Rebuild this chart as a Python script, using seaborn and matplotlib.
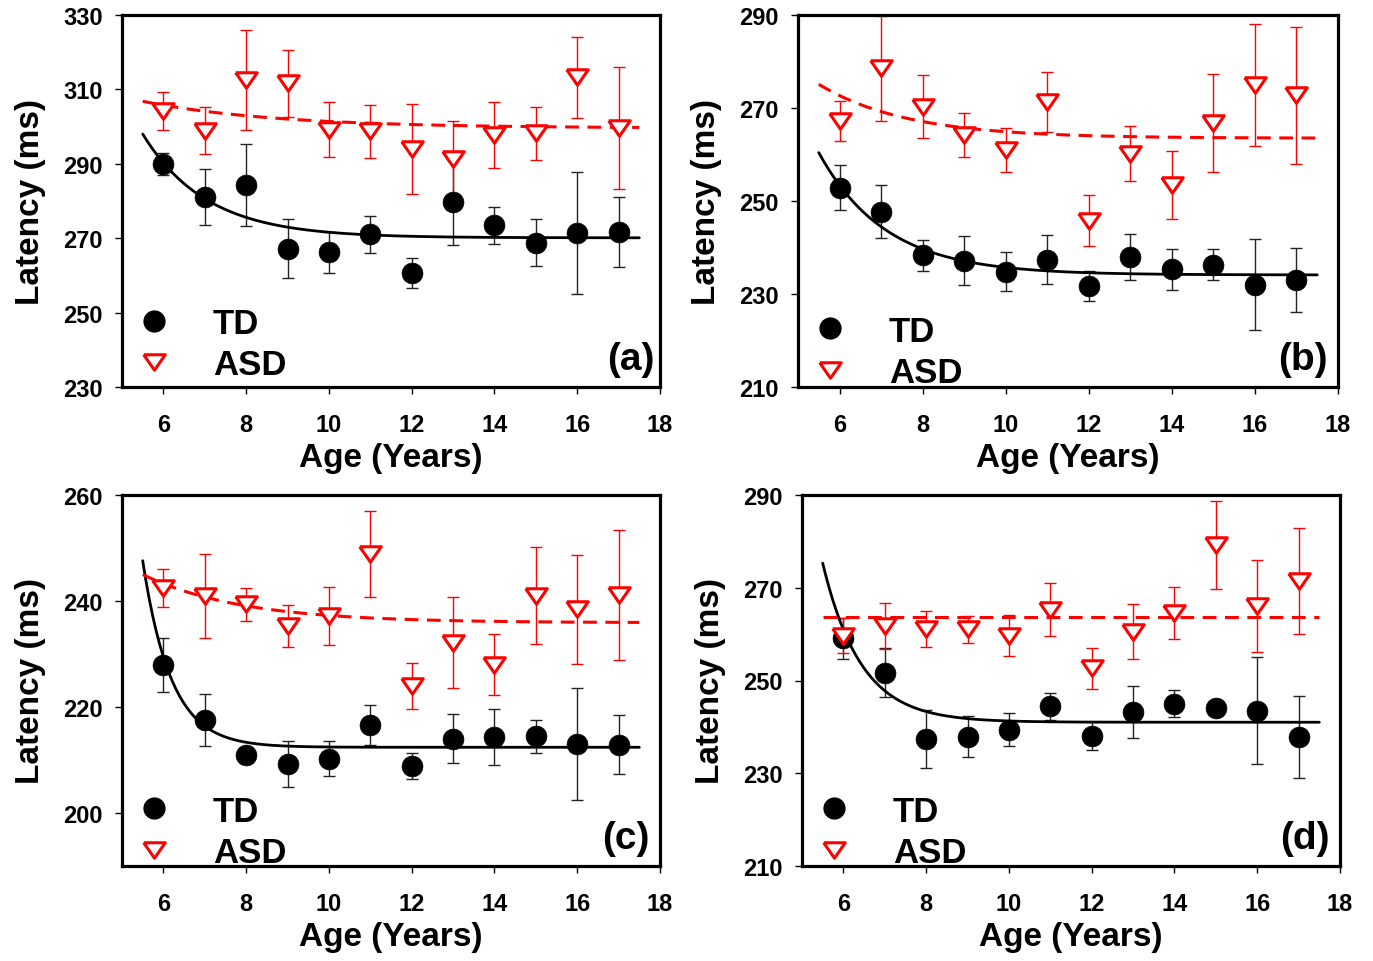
import numpy as np
import matplotlib
matplotlib.use("Agg")
import matplotlib.pyplot as plt
import seaborn as sns
from matplotlib.lines import Line2D

# ---------------- data ----------------
ages = [6, 7, 8, 9, 10, 11, 12, 13, 14, 15, 16, 17]

# panel (a)
td_a = [290.0, 281.1, 284.2, 267.2, 266.2, 271.0, 260.7, 279.6, 273.5, 268.8, 271.4, 271.7]
td_a_err = [3.0, 7.5, 11.0, 8.0, 5.5, 5.0, 4.0, 11.5, 5.0, 6.3, 16.5, 9.5]
asd_a = [304.3, 298.9, 312.5, 311.6, 299.2, 298.7, 293.9, 291.4, 297.8, 298.2, 313.3, 299.6]
asd_a_err = [5.1, 6.3, 13.4, 9.0, 7.5, 7.1, 12.1, 10.0, 8.9, 7.2, 10.9, 16.4]

# panel (b)
td_b = [252.9, 247.7, 238.3, 237.2, 234.8, 237.4, 231.7, 238.0, 235.3, 236.3, 232.0, 233.1]
td_b_err = [4.9, 5.7, 3.4, 5.3, 4.2, 5.2, 3.2, 5.0, 4.4, 3.3, 9.8, 6.9]
asd_b = [267.2, 278.5, 270.3, 264.2, 261.0, 271.3, 245.8, 260.2, 253.4, 266.8, 274.9, 272.7]
asd_b_err = [4.3, 11.3, 6.8, 4.8, 4.8, 6.5, 5.5, 6.0, 7.3, 10.5, 13.1, 14.8]

# panel (c)
td_c = [228.0, 217.5, 210.9, 209.2, 210.2, 216.6, 208.9, 214.0, 214.3, 214.5, 213.0, 212.9]
td_c_err = [5.1, 4.9, 1.5, 4.3, 3.3, 3.8, 2.5, 4.6, 5.3, 3.1, 10.5, 5.6]
asd_c = [242.5, 240.9, 239.4, 235.3, 237.2, 248.8, 224.0, 232.1, 228.0, 241.0, 238.4, 241.1]
asd_c_err = [3.6, 7.9, 3.1, 3.9, 5.5, 8.1, 4.3, 8.6, 5.7, 9.2, 10.2, 12.3]

# panel (d)
td_d = [259.1, 251.7, 237.4, 237.9, 239.4, 244.4, 238.0, 243.3, 245.0, 244.1, 243.5, 237.8]
td_d_err = [4.4, 5.3, 6.3, 4.4, 3.5, 3.0, 3.0, 5.6, 2.9, 1.0, 11.5, 8.9]
asd_d = [259.7, 261.8, 261.1, 261.0, 259.7, 265.3, 252.6, 260.5, 264.5, 279.2, 266.1, 271.5]
asd_d_err = [3.8, 4.9, 3.9, 2.9, 4.5, 5.8, 4.5, 5.9, 5.6, 9.4, 9.9, 11.4]

# exponential fits: asymptote, amplitude at age 5.5, rate
fit_td_a = [270.1, 27.9, 0.65]
fit_asd_a = [299.6, 7.2, 0.31]
fit_td_b = [234.1, 26.3, 0.62]
fit_asd_b = [263.5, 11.6, 0.47]
fit_td_c = [212.4, 35.2, 1.45]
fit_asd_c = [235.9, 9.1, 0.42]
fit_td_d = [241.0, 34.3, 1.08]
fit_asd_d = [263.7, 0.0, 1.0]
fit_range = [5.5, 17.5]

panel_letters = ["(a)", "(b)", "(c)", "(d)"]
ylims = [(230, 330), (210, 290), (190, 260), (210, 290)]
yticks = [[230, 250, 270, 290, 310, 330], [210, 230, 250, 270, 290],
          [200, 220, 240, 260], [210, 230, 250, 270, 290]]
xticks = [6, 8, 10, 12, 14, 16, 18]

# ---------------- style ----------------
sns.set_theme(style="ticks")
plt.rcParams["font.family"] = ["Liberation Sans", "DejaVu Sans"]
plt.rcParams["font.weight"] = "bold"
plt.rcParams["axes.labelweight"] = "bold"
plt.rcParams["text.color"] = "black"
plt.rcParams["axes.labelcolor"] = "black"
plt.rcParams["xtick.color"] = "black"
plt.rcParams["ytick.color"] = "black"

W, H = 1373, 962
fig = plt.figure(figsize=(W / 100, H / 100), dpi=100)

# pixel boxes: left, top, right, bottom
boxes = [(122, 16, 660, 388), (798, 16, 1338, 388),
         (122, 496, 660, 867), (802, 496, 1340, 867)]
legend_anchor = [(0.02, 0.016), (0.02, -0.005), (0.02, -0.008), (0.02, -0.008)]
letter_x = [0.99, 0.98, 0.98, 0.98]

tri = [(-1.0, 0.72), (1.0, 0.72), (0.0, -0.72), (-1.0, 0.72)]

panels = [
    (td_a, td_a_err, asd_a, asd_a_err, fit_td_a, fit_asd_a),
    (td_b, td_b_err, asd_b, asd_b_err, fit_td_b, fit_asd_b),
    (td_c, td_c_err, asd_c, asd_c_err, fit_td_c, fit_asd_c),
    (td_d, td_d_err, asd_d, asd_d_err, fit_td_d, fit_asd_d),
]

xs_fit = np.linspace(fit_range[0], fit_range[1], 300)

for i, (td, tde, asd, asde, ftd, fasd) in enumerate(panels):
    l, t, r, b = boxes[i]
    ax = fig.add_axes([l / W, 1 - b / H, (r - l) / W, (b - t) / H])

    # error bars
    ax.errorbar(ages, td, yerr=tde, fmt="none", ecolor="#222222",
                elinewidth=1.0, capsize=4, capthick=1.0, zorder=2)
    ax.errorbar(ages, asd, yerr=asde, fmt="none", ecolor="#ff0000",
                elinewidth=1.0, capsize=4, capthick=1.0, zorder=2)

    # fitted curves
    y_td = ftd[0] + ftd[1] * np.exp(-ftd[2] * (xs_fit - fit_range[0]))
    y_asd = fasd[0] + fasd[1] * np.exp(-fasd[2] * (xs_fit - fit_range[0]))
    sns.lineplot(x=xs_fit, y=y_td, ax=ax, color="black", linewidth=2.0,
                 zorder=3, legend=False)
    sns.lineplot(x=xs_fit, y=y_asd, ax=ax, color="#ff0000", linewidth=2.2,
                 linestyle=(0, (4.5, 2.8)), zorder=3, legend=False)

    # markers
    sns.scatterplot(x=ages, y=td, ax=ax, marker="o", s=15 ** 2, color="black",
                    edgecolor="black", linewidth=0.5, zorder=4, legend=False)
    sns.scatterplot(x=ages, y=asd, ax=ax, marker=tri, s=15.5 ** 2,
                    facecolor="white", edgecolor="#ff0000", linewidth=2.2,
                    zorder=5, legend=False)

    ax.set_xlim(5, 18)
    ax.set_ylim(*ylims[i])
    ax.set_xticks(xticks)
    ax.set_yticks(yticks[i])
    ax.tick_params(axis="both", direction="out", length=5, width=1.0,
                   labelsize=17, color="black", labelcolor="black")
    ax.tick_params(axis="x", pad=14)
    ax.tick_params(axis="y", pad=9)
    for lab in ax.get_xticklabels() + ax.get_yticklabels():
        lab.set_fontweight("bold")
    for sp in ax.spines.values():
        sp.set_visible(True)
        sp.set_linewidth(2.3)
        sp.set_color("black")

    ax.set_xlabel("Age (Years)", fontsize=24, fontweight="bold", labelpad=4,
                  color="black")
    ax.set_ylabel("Latency (ms)", fontsize=24, fontweight="bold", labelpad=12,
                  color="black")

    handles = [
        Line2D([], [], linestyle="none", marker="o", markersize=15,
               color="black"),
        Line2D([], [], linestyle="none", marker=tri, markersize=15.5,
               markerfacecolor="white", markeredgecolor="#ff0000",
               markeredgewidth=2.2),
    ]
    leg = ax.legend(handles, ["TD", "ASD"], loc="lower left",
                    bbox_to_anchor=legend_anchor[i], frameon=False,
                    prop={"size": 25, "weight": "bold"}, handlelength=1.2,
                    handletextpad=1.11, labelspacing=0.24, borderpad=0.0,
                    borderaxespad=0.0)
    for txt in leg.get_texts():
        txt.set_color("black")

    ax.text(letter_x[i], 0.075, panel_letters[i], transform=ax.transAxes,
            ha="right", va="center", fontsize=28, fontweight="bold",
            color="black")

fig.savefig("out.png", dpi=100)
